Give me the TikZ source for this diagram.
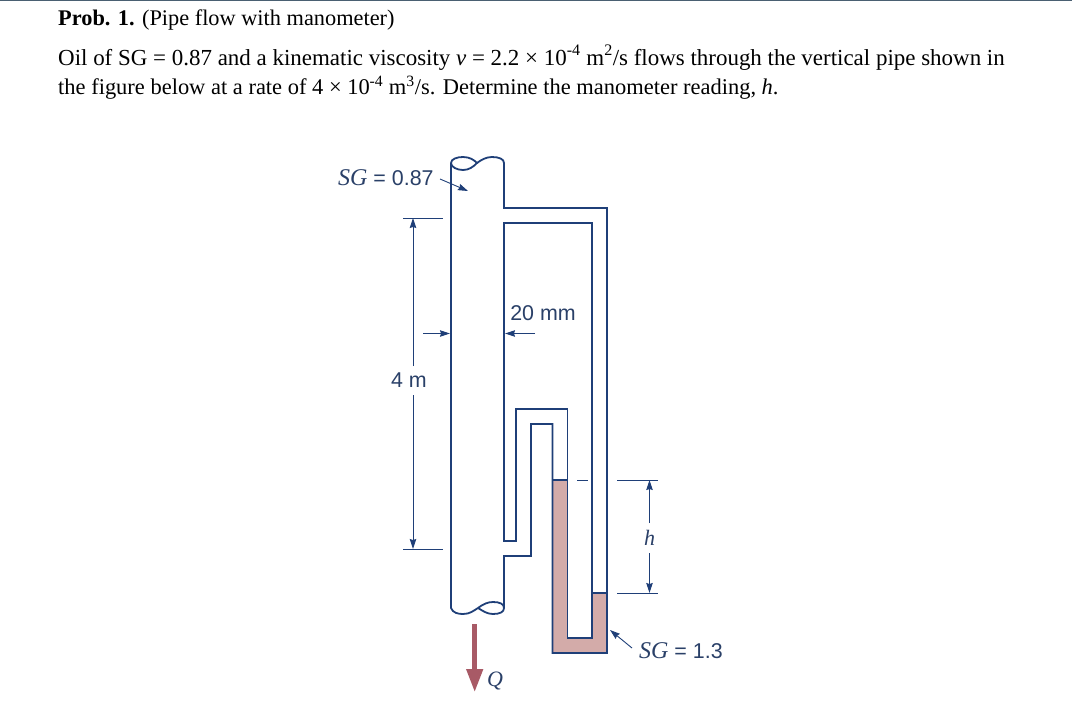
\documentclass[tikz,border=0pt]{standalone}
\usepackage{fontspec}
\setmainfont{Liberation Serif}
\setsansfont{Liberation Sans}
\usetikzlibrary{arrows.meta}
\definecolor{pipeblue}{HTML}{1F3F78}
\definecolor{labelblue}{HTML}{2A4068}
\definecolor{fluidpink}{HTML}{D3ABA9}
\definecolor{flowred}{HTML}{A85A66}
\definecolor{rulegrey}{HTML}{4A6072}
\newcommand{\sgname}{{\rmfamily\itshape\fontsize{24}{24}\selectfont SG}}
\tikzset{
    probtext/.style={anchor=base west,inner sep=0pt,text=black},
    figtext/.style={anchor=base west,inner sep=0pt,text=labelblue,font=\sffamily\fontsize{21.4}{24}\selectfont},
    figletter/.style={anchor=center,inner sep=0pt,text=labelblue,font=\rmfamily\itshape\fontsize{22}{24}\selectfont},
    wall/.style={draw=pipeblue,line width=1.8pt,line join=miter},
    dimline/.style={draw=pipeblue,line width=0.9pt},
    dimarrow/.style={dimline,-{Stealth[length=10pt,width=6.5pt,inset=1pt]}},
}
\begin{document}
\begin{tikzpicture}[x=1pt,y=-1pt]
    \useasboundingbox[fill=white] (0,0) rectangle (1072,715);
    \draw[rulegrey,line width=1.2pt] (0,0.6) -- (1072,0.6);
    % problem text
    \node[probtext,font=\fontsize{22.33}{27}\selectfont](title) at (58,25) {\textbf{Prob. 1.} (Pipe flow with manometer)};
    \node[probtext,font=\fontsize{22.95}{27}\selectfont](lineone) at (58,65) {Oil of SG = 0.87 and a kinematic viscosity \textit{ν} = 2.2 × 10\textsuperscript{-4} m\textsuperscript{2}/s flows through the vertical pipe shown in};
    \node[probtext,font=\fontsize{22.47}{27}\selectfont](linetwo) at (58,94) {the figure below at a rate of 4 × 10\textsuperscript{-4} m\textsuperscript{3}/s. Determine the manometer reading, \textit{h}.};
    % manometer fluid
    \fill[fluidpink] (552.5,480) -- (567.5,480) -- (567.5,638) -- (592,638) -- (592,593) -- (607,593) -- (607,653) -- (552.5,653) -- cycle;
    % pipe and tubes
    \draw[wall] (451,163) -- (451,608) .. controls (453,613) and (458,614) .. (463,614)
        .. controls (470,614) and (473,611) .. (478,608)
        .. controls (483,604) and (488,602) .. (493,602)
        .. controls (500,602) and (504,604) .. (504,608)
        .. controls (504,612) and (500,614) .. (493,614)
        .. controls (487,614) and (483,611) .. (478,608);
    \draw[wall] (451,163) .. controls (451,159) and (457,157) .. (463,157)
        .. controls (470,157) and (474,160) .. (477,163)
        .. controls (473,167) and (469,170) .. (463,170)
        .. controls (457,170) and (451,167) .. (451,163);
    \draw[wall] (477,163) .. controls (481,160) and (486,157) .. (492,157)
        .. controls (499,157) and (504,159) .. (504,163) -- (504,208) -- (607,208) -- (607,653) -- (552.5,653)
        -- (552.5,424) -- (531,424) -- (531,556) -- (504,556) -- (504,608);
    \draw[wall] (504,223) -- (592,223) -- (592,638) -- (567.5,638) -- (567.5,409) -- (516,409) -- (516,541) -- (504,541) -- cycle;
    \draw[wall] (552.5,480) -- (567.5,480);
    \draw[wall] (592,593) -- (607,593);
    % SG labels
    \node[figtext](sgoil) at (338,185) {\sgname{} = 0.87};
    \coordinate(sgoilfrom) at (440,179);
    \coordinate(sgoilto) at (468,191);
    \draw[dimarrow] (sgoilfrom) -- (sgoilto);
    \node[figtext](sgfluid) at (639,658) {\sgname{} = 1.3};
    \coordinate(sgfluidfrom) at (632,648);
    \coordinate(sgfluidto) at (610,630);
    \draw[dimarrow] (sgfluidfrom) -- (sgfluidto);
    % 4 m dimension
    \coordinate(fourtopa) at (403,218);
    \coordinate(fourtopb) at (443,218);
    \coordinate(fourbota) at (403,549);
    \coordinate(fourbotb) at (443,549);
    \draw[dimline] (fourtopa) -- (fourtopb);
    \draw[dimline] (fourbota) -- (fourbotb);
    \node[figtext,anchor=center](fourm) at (409,380) {4 m};
    \coordinate(fourup) at (413,218);
    \coordinate(fourupfrom) at (413,366);
    \coordinate(fourdown) at (413,549);
    \coordinate(fourdownfrom) at (413,395);
    \draw[dimarrow] (fourupfrom) -- (fourup);
    \draw[dimarrow] (fourdownfrom) -- (fourdown);
    % 20 mm dimension
    \node[figtext,anchor=center](twenty) at (543,313.5) {20 mm};
    \coordinate(twentyla) at (423,333.5);
    \coordinate(twentylb) at (450,333.5);
    \coordinate(twentyra) at (535,333.5);
    \coordinate(twentyrb) at (505,333.5);
    \draw[dimarrow] (twentyla) -- (twentylb);
    \draw[dimarrow] (twentyra) -- (twentyrb);
    % h dimension
    \coordinate(htopa) at (617,480);
    \coordinate(htopb) at (658,480);
    \coordinate(hbota) at (617,593);
    \coordinate(hbotb) at (658,593);
    \coordinate(hdasha) at (577,480);
    \coordinate(hdashb) at (588,480);
    \draw[dimline] (htopa) -- (htopb);
    \draw[dimline] (hbota) -- (hbotb);
    \draw[dimline] (hdasha) -- (hdashb);
    \node[figletter](hlabel) at (649.5,538) {h};
    \coordinate(hup) at (649.5,480);
    \coordinate(hupfrom) at (649.5,523);
    \coordinate(hdown) at (649.5,593);
    \coordinate(hdownfrom) at (649.5,553);
    \draw[dimarrow] (hupfrom) -- (hup);
    \draw[dimarrow] (hdownfrom) -- (hdown);
    % flow
    \coordinate(flowfrom) at (474.7,624);
    \coordinate(flowto) at (474.7,692);
    \draw[flowred,line width=4.5pt,-{Triangle[length=23pt,width=16pt]}] (flowfrom) -- (flowto);
    \node[figletter](flowq) at (495,681) {Q};
\end{tikzpicture}
\end{document}
